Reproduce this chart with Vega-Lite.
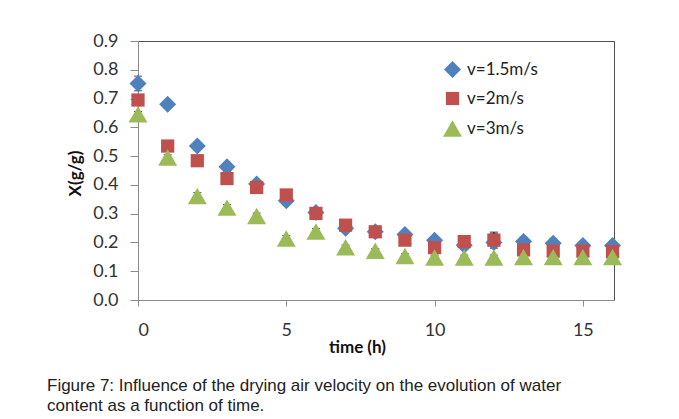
{
  "$schema": "https://vega.github.io/schema/vega-lite/v6.json",
  "width": 476,
  "height": 259,
  "autosize": "none",
  "padding": {"left": 138, "top": 41, "right": 65, "bottom": 119},
  "background": "white",
  "config": {
    "view": {"stroke": "#505050", "strokeWidth": 1},
    "font": "Lato",
    "axis": {"labelFont": "Lato", "titleFont": "Lato", "labelColor": "#333333", "titleColor": "#111111", "domainColor": "#8c8c8c", "tickColor": "#8c8c8c", "grid": false}
  },
  "title": {
    "text": ["Figure 7: Influence of the drying air velocity on the evolution of water", "content as a function of time."],
    "orient": "bottom",
    "anchor": "start",
    "font": "Liberation Sans",
    "fontSize": 17,
    "fontWeight": "normal",
    "color": "#222222",
    "lineHeight": 20,
    "dx": -19,
    "offset": 23
  },
  "data": {
    "values": [
      {"t": 0, "series": "v=1.5m/s", "X": 0.752, "lo": 0.727, "hi": 0.778},
      {"t": 1, "series": "v=1.5m/s", "X": 0.68, "lo": 0.667, "hi": 0.693},
      {"t": 2, "series": "v=1.5m/s", "X": 0.535, "lo": 0.525, "hi": 0.545},
      {"t": 3, "series": "v=1.5m/s", "X": 0.463, "lo": 0.448, "hi": 0.478},
      {"t": 4, "series": "v=1.5m/s", "X": 0.403, "lo": 0.393, "hi": 0.413},
      {"t": 5, "series": "v=1.5m/s", "X": 0.345, "lo": 0.338, "hi": 0.352},
      {"t": 6, "series": "v=1.5m/s", "X": 0.304, "lo": 0.29, "hi": 0.318},
      {"t": 7, "series": "v=1.5m/s", "X": 0.249, "lo": 0.24, "hi": 0.258},
      {"t": 8, "series": "v=1.5m/s", "X": 0.237, "lo": 0.228, "hi": 0.246},
      {"t": 9, "series": "v=1.5m/s", "X": 0.228, "lo": 0.215, "hi": 0.24},
      {"t": 10, "series": "v=1.5m/s", "X": 0.208, "lo": 0.198, "hi": 0.218},
      {"t": 11, "series": "v=1.5m/s", "X": 0.19, "lo": 0.182, "hi": 0.198},
      {"t": 12, "series": "v=1.5m/s", "X": 0.2, "lo": 0.19, "hi": 0.232},
      {"t": 13, "series": "v=1.5m/s", "X": 0.203, "lo": 0.19, "hi": 0.218},
      {"t": 14, "series": "v=1.5m/s", "X": 0.197, "lo": 0.185, "hi": 0.212},
      {"t": 15, "series": "v=1.5m/s", "X": 0.189, "lo": 0.178, "hi": 0.2},
      {"t": 16, "series": "v=1.5m/s", "X": 0.189, "lo": 0.178, "hi": 0.2},
      {"t": 0, "series": "v=2m/s", "X": 0.695, "lo": 0.685, "hi": 0.705},
      {"t": 1, "series": "v=2m/s", "X": 0.535, "lo": 0.525, "hi": 0.545},
      {"t": 2, "series": "v=2m/s", "X": 0.484, "lo": 0.474, "hi": 0.494},
      {"t": 3, "series": "v=2m/s", "X": 0.422, "lo": 0.414, "hi": 0.43},
      {"t": 4, "series": "v=2m/s", "X": 0.391, "lo": 0.383, "hi": 0.399},
      {"t": 5, "series": "v=2m/s", "X": 0.365, "lo": 0.357, "hi": 0.373},
      {"t": 6, "series": "v=2m/s", "X": 0.301, "lo": 0.287, "hi": 0.315},
      {"t": 7, "series": "v=2m/s", "X": 0.26, "lo": 0.252, "hi": 0.268},
      {"t": 8, "series": "v=2m/s", "X": 0.237, "lo": 0.229, "hi": 0.245},
      {"t": 9, "series": "v=2m/s", "X": 0.208, "lo": 0.2, "hi": 0.216},
      {"t": 10, "series": "v=2m/s", "X": 0.182, "lo": 0.174, "hi": 0.19},
      {"t": 11, "series": "v=2m/s", "X": 0.203, "lo": 0.195, "hi": 0.211},
      {"t": 12, "series": "v=2m/s", "X": 0.208, "lo": 0.18, "hi": 0.236},
      {"t": 13, "series": "v=2m/s", "X": 0.174, "lo": 0.166, "hi": 0.182},
      {"t": 14, "series": "v=2m/s", "X": 0.17, "lo": 0.162, "hi": 0.178},
      {"t": 15, "series": "v=2m/s", "X": 0.17, "lo": 0.162, "hi": 0.178},
      {"t": 16, "series": "v=2m/s", "X": 0.168, "lo": 0.16, "hi": 0.176},
      {"t": 0, "series": "v=3m/s", "X": 0.645, "lo": 0.635, "hi": 0.655},
      {"t": 1, "series": "v=3m/s", "X": 0.495, "lo": 0.485, "hi": 0.505},
      {"t": 2, "series": "v=3m/s", "X": 0.361, "lo": 0.35, "hi": 0.373},
      {"t": 3, "series": "v=3m/s", "X": 0.321, "lo": 0.31, "hi": 0.332},
      {"t": 4, "series": "v=3m/s", "X": 0.292, "lo": 0.282, "hi": 0.302},
      {"t": 5, "series": "v=3m/s", "X": 0.214, "lo": 0.204, "hi": 0.224},
      {"t": 6, "series": "v=3m/s", "X": 0.238, "lo": 0.228, "hi": 0.248},
      {"t": 7, "series": "v=3m/s", "X": 0.183, "lo": 0.175, "hi": 0.191},
      {"t": 8, "series": "v=3m/s", "X": 0.171, "lo": 0.163, "hi": 0.179},
      {"t": 9, "series": "v=3m/s", "X": 0.153, "lo": 0.145, "hi": 0.161},
      {"t": 10, "series": "v=3m/s", "X": 0.148, "lo": 0.14, "hi": 0.156},
      {"t": 11, "series": "v=3m/s", "X": 0.148, "lo": 0.14, "hi": 0.156},
      {"t": 12, "series": "v=3m/s", "X": 0.148, "lo": 0.14, "hi": 0.156},
      {"t": 13, "series": "v=3m/s", "X": 0.149, "lo": 0.141, "hi": 0.157},
      {"t": 14, "series": "v=3m/s", "X": 0.149, "lo": 0.141, "hi": 0.157},
      {"t": 15, "series": "v=3m/s", "X": 0.149, "lo": 0.141, "hi": 0.157},
      {"t": 16, "series": "v=3m/s", "X": 0.149, "lo": 0.141, "hi": 0.157}
    ]
  },
  "encoding": {
    "x": {
      "field": "t", "type": "quantitative",
      "scale": {"domain": [0, 16.05], "nice": false},
      "axis": {"values": [0, 5, 10, 15], "title": "time  (h)", "labelFontSize": 18, "tickSize": 6, "labelPadding": 15, "titleFontSize": 17, "titleFontWeight": "bold", "titleX": 219, "titleY": 39}
    }
  },
  "layer": [
    {
      "mark": {"type": "errorbar", "ticks": {"size": 8}, "color": "black", "thickness": 1},
      "encoding": {
        "y": {
          "field": "lo", "type": "quantitative",
          "scale": {"domain": [0, 0.9], "nice": false},
          "axis": {"values": [0, 0.1, 0.2, 0.3, 0.4, 0.5, 0.6, 0.7, 0.8, 0.9], "format": ".1f", "title": "X(g/g)", "labelFontSize": 18, "tickSize": 8, "labelPadding": 12, "titleFontSize": 17, "titleFontWeight": "bold", "titleX": -63, "titleY": 132, "titleAngle": -90, "titleBaseline": "middle", "titleAlign": "center"}
        },
        "y2": {"field": "hi"},
        "detail": {"field": "series"}
      }
    },
    {
      "mark": {"type": "point", "filled": true, "opacity": 1, "stroke": null},
      "encoding": {
        "y": {
          "field": "X", "type": "quantitative",
          "scale": {"domain": [0, 0.9], "nice": false},
          "axis": {"values": [0, 0.1, 0.2, 0.3, 0.4, 0.5, 0.6, 0.7, 0.8, 0.9], "format": ".1f", "title": "X(g/g)", "labelFontSize": 18, "tickSize": 8, "labelPadding": 12, "titleFontSize": 17, "titleFontWeight": "bold", "titleX": -63, "titleY": 132, "titleAngle": -90, "titleBaseline": "middle", "titleAlign": "center"}
        },
        "color": {
          "field": "series", "type": "nominal",
          "scale": {"domain": ["v=1.5m/s", "v=2m/s", "v=3m/s"], "range": ["#4F81BD", "#C0504D", "#9BBB59"]},
          "legend": {"title": null, "orient": "none", "legendX": 304, "legendY": 19, "labelFontSize": 17, "labelFont": "Lato", "labelColor": "#222222", "symbolSize": 140, "rowPadding": 11, "labelOffset": 4}
        },
        "shape": {
          "field": "series", "type": "nominal",
          "scale": {"domain": ["v=1.5m/s", "v=2m/s", "v=3m/s"], "range": ["diamond", "square", "triangle-up"]}
        },
        "size": {
          "field": "series", "type": "nominal",
          "scale": {"type": "ordinal", "domain": ["v=1.5m/s", "v=2m/s", "v=3m/s"], "range": [289, 175, 361]},
          "legend": null
        }
      }
    }
  ]
}
